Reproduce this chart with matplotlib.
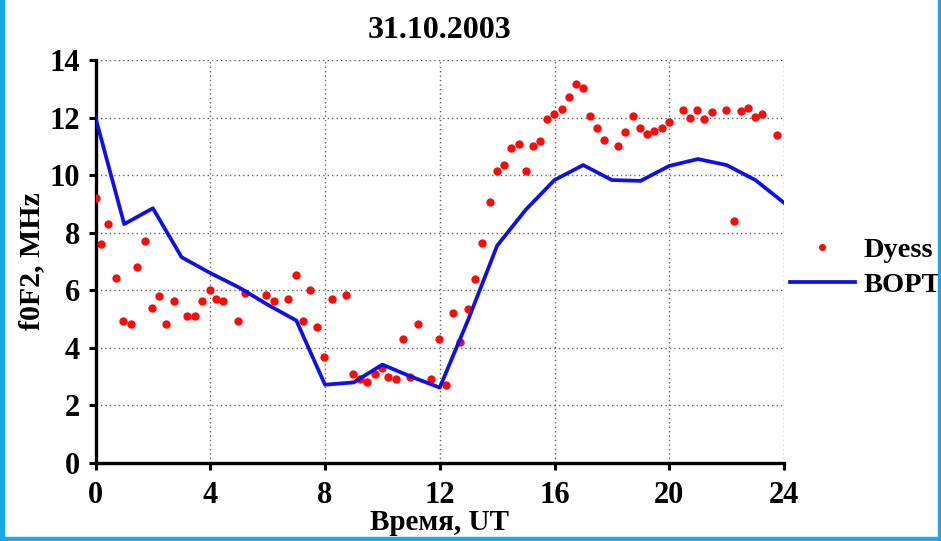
import numpy as np
import matplotlib
matplotlib.use('Agg')
import matplotlib.pyplot as plt
from matplotlib.patches import Rectangle

# Dyess ionosonde, f0F2 (MHz) vs UT hours
dyess_t = [0.0, 0.2, 0.45, 0.72, 0.97, 1.24, 1.45, 1.72, 1.97, 2.22, 2.47, 2.72,
           3.2, 3.47, 3.71, 4.0, 4.2, 4.45, 4.96, 5.22, 5.95, 6.22, 6.72, 6.99,
           7.22, 7.48, 7.72, 7.97, 8.23, 8.72, 8.97, 9.21, 9.47, 9.73, 9.97,
           10.2, 10.46, 10.71, 10.96, 11.24, 11.71, 11.97, 12.21, 12.47, 12.7,
           12.97, 13.23, 13.48, 13.75, 13.99, 14.23, 14.48, 14.75, 14.99, 15.25,
           15.49, 15.74, 15.99, 16.25, 16.49, 16.75, 16.99, 17.23, 17.48, 17.74,
           18.23, 18.47, 18.72, 18.98, 19.24, 19.48, 19.74, 19.98, 20.48, 20.74,
           20.98, 21.22, 21.48, 21.98, 22.25, 22.49, 22.73, 22.98, 23.24, 23.75]
dyess_f = [9.2, 7.6, 8.3, 6.44, 4.94, 4.84, 6.82, 7.7, 5.39, 5.81, 4.84, 5.63,
           5.12, 5.12, 5.63, 6.01, 5.71, 5.63, 4.94, 5.92, 5.83, 5.62, 5.71, 6.53,
           4.94, 6.02, 4.73, 3.68, 5.71, 5.83, 3.09, 2.91, 2.8, 3.09, 3.31,
           3.0, 2.92, 4.32, 3.0, 4.84, 2.91, 4.32, 2.71, 5.22, 4.2,
           5.36, 6.38, 7.65, 9.05, 10.14, 10.35, 10.93, 11.09, 10.15, 11.02,
           11.18, 11.94, 12.14, 12.31, 12.72, 13.15, 13.04, 12.06, 11.65, 11.22,
           11.02, 11.5, 12.05, 11.65, 11.44, 11.54, 11.65, 11.84, 12.26, 11.99,
           12.26, 11.94, 12.18, 12.26, 8.41, 12.24, 12.33, 12.02, 12.14, 11.38]

# BOPT model, hourly
bopt_t = list(range(25))
bopt_f = [12.0, 8.3, 8.85, 7.15, 6.6, 6.1, 5.5, 4.95, 2.72, 2.8, 3.42, 3.0, 2.62,
          5.0, 7.55, 8.8, 9.83, 10.35, 9.83, 9.8, 10.32, 10.56, 10.35, 9.83, 9.04]

x_ticks = [0, 4, 8, 12, 16, 20, 24]
y_ticks = [0, 2, 4, 6, 8, 10, 12, 14]

plt.rcParams['font.family'] = ['Liberation Serif', 'DejaVu Serif']
plt.rcParams['font.weight'] = 'bold'

fig = plt.figure(figsize=(9.41, 5.41), dpi=100)
ax = fig.add_axes((95.5 / 941, 1 - 463 / 541, (784 - 95.5) / 941, (463 - 60) / 541))

ax.plot(dyess_t, dyess_f, 'o', color='#ff0a0a', markersize=6,
        markeredgewidth=0, label='Dyess', zorder=3)
ax.plot(bopt_t, bopt_f, '-', color='#1010e6', linewidth=2.7,
        label='BOPT', zorder=4)

ax.set_xlim(0, 24)
ax.set_ylim(0, 14)
ax.set_xticks(x_ticks)
ax.set_yticks(y_ticks)
ax.grid(True, linestyle=(0, (1, 2.2)), color='#666666', linewidth=1.0)
ax.set_axisbelow(True)

for s in ('top', 'right'):
    ax.spines[s].set_visible(False)
for s in ('left', 'bottom'):
    ax.spines[s].set_linewidth(2.4)
ax.tick_params(direction='out', length=5, width=2.2, labelsize=22)
ax.tick_params(axis='x', pad=8)
ax.tick_params(axis='y', pad=6)
for lab in ax.get_xticklabels() + ax.get_yticklabels():
    lab.set_fontweight('bold')

ax.set_title('31.10.2003', fontsize=23, fontweight='bold', pad=16)
ax.set_xlabel('Время, UT', fontsize=21, fontweight='bold', labelpad=-1)
ax.set_ylabel('f0F2, MHz', fontsize=21.5, fontweight='bold', labelpad=3)

leg = ax.legend(loc='center left', bbox_to_anchor=(0.971, 0.485), frameon=False,
                fontsize=20.5, handlelength=2.3, handletextpad=0.28,
                labelspacing=0.3, markerscale=0.85)
for t in leg.get_texts():
    t.set_fontweight('bold')

# light blue frame around the slide
frame = '#1aa8e8'
fig.patches.append(Rectangle((0, 0), 4 / 941, 1, transform=fig.transFigure,
                             color=frame, zorder=10))
fig.patches.append(Rectangle((1 - 3 / 941, 0), 3 / 941, 1, transform=fig.transFigure,
                             color=frame, zorder=10))
fig.patches.append(Rectangle((0, 0), 1, 4 / 541, transform=fig.transFigure,
                             color=frame, zorder=10))

fig.savefig('out.png', dpi=100)
